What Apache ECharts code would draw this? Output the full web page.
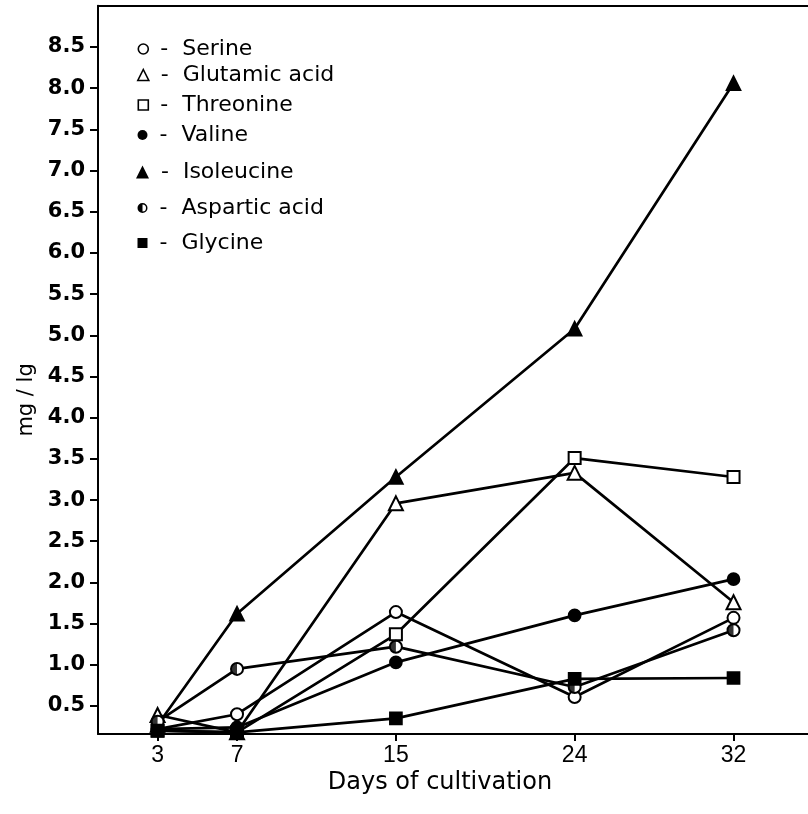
<!DOCTYPE html>
<html lang="en">
<head>
    <meta charset="UTF-8">
    <title>Amino acids - days of cultivation</title>
    <script src="https://cdn.jsdelivr.net/npm/echarts@6/dist/echarts.min.js"></script>
</head>
<body style="margin:0;background:#fff;">
<div id="main" style="width:808px;height:814px;"></div>

<script type="text/javascript">
    // values (mg / lg)
    var days = [3, 7, 15, 24, 32];
    var serine = [0.22, 0.40, 1.64, 0.61, 1.57];
    var glutamic = [0.39, 0.18, 2.96, 3.33, 1.76];
    var threonine = [0.20, 0.18, 1.37, 3.51, 3.28];
    var valine = [0.22, 0.24, 1.03, 1.60, 2.04];
    var isoleucine = [0.27, 1.62, 3.28, 5.08, 8.06];
    var aspartic = [0.31, 0.95, 1.22, 0.73, 1.42];
    var glycine = [0.20, 0.18, 0.35, 0.83, 0.84];

    var yTicks = [0.5, 1.0, 1.5, 2.0, 2.5, 3.0, 3.5, 4.0, 4.5, 5.0, 5.5, 6.0, 6.5, 7.0, 7.5, 8.0, 8.5];
    var xTicks = [3, 7, 15, 24, 32];

    // half filled circle (left half black) for aspartic acid
    var halfRing = 'path://M10 0A10 10 0 1 1 10 20A10 10 0 1 1 10 0ZM10 3L10 17A7 7 0 0 0 10 3Z';
    var halfDisk = 'path://M10 0A10 10 0 0 0 10 20Z';

    function pairs(ys) {
        var out = [];
        for (var i = 0; i < days.length; i++) {
            out.push([days[i], ys[i]]);
        }
        return out;
    }

    var font = 'DejaVu Sans';

    var items = [
        {name: 'Serine', data: serine, symbol: 'emptyCircle', size: 12, icon: 'circle', fill: '#fff', isz: 10},
        {name: 'Glutamic acid', data: glutamic, symbol: 'emptyTriangle', size: 14, icon: 'triangle', fill: '#fff', isz: 11},
        {name: 'Threonine', data: threonine, symbol: 'emptyRect', size: 12, icon: 'rect', fill: '#fff', isz: 10},
        {name: 'Valine', data: valine, symbol: 'circle', size: 12, icon: 'circle', fill: '#000', isz: 10},
        {name: 'Isoleucine', data: isoleucine, symbol: 'triangle', size: 14, icon: 'triangle', fill: '#000', isz: 13},
        {name: 'Aspartic acid', data: aspartic, symbol: 'emptyCircle', size: 12, icon: halfRing, fill: '#000', isz: 10},
        {name: 'Glycine', data: glycine, symbol: 'rect', size: 12, icon: 'rect', fill: '#000', isz: 10}
    ];
    var legendTops = [33, 59, 89, 119, 156, 192, 227];

    var series = [];
    var legends = [];
    for (var i = 0; i < items.length; i++) {
        var it = items[i];
        series.push({
            name: it.name,
            type: 'line',
            data: pairs(it.data),
            symbol: it.symbol,
            symbolSize: it.size,
            showAllSymbol: true,
            lineStyle: {color: '#000', width: 2.7},
            itemStyle: {color: '#000', borderColor: '#000', borderWidth: 1.7},
            z: 2 + i * 0.01
        });
        legends.push({
            left: 132 + (11 - it.isz) / 2,
            top: legendTops[i],
            orient: 'vertical',
            selectedMode: false,
            itemWidth: it.isz,
            itemHeight: it.isz,
            formatter: ' -  {name}',
            textStyle: {fontFamily: font, fontSize: 22, color: '#000'},
            data: [{
                name: it.name,
                icon: it.icon,
                itemStyle: {color: it.fill, borderColor: '#000', borderWidth: it.fill === '#fff' ? 1.6 : 0}
            }]
        });
    }
    // left half of the aspartic acid markers
    series.push({
        name: 'Aspartic acid (half)',
        type: 'scatter',
        data: pairs(aspartic),
        symbol: halfDisk,
        symbolSize: [6, 12],
        symbolOffset: [-3, 0],
        itemStyle: {color: '#000'},
        z: 5
    });

    var myChart = echarts.init(document.getElementById('main'));

    var option = {
        backgroundColor: '#fff',
        animation: false,
        legend: legends,
        grid: {
            left: 98,
            top: 5.8,
            right: 0,
            bottom: 80,
            show: false
        },
        xAxis: [{
            type: 'value',
            min: 0,
            max: 35.75,
            name: 'Days of cultivation',
            nameLocation: 'middle',
            nameGap: 37,
            nameMoveOverlap: false,
            nameTextStyle: {fontFamily: font, fontSize: 24, color: '#000', padding: [0, 26, 0, 0]},
            splitLine: {show: false},
            axisLine: {show: true, lineStyle: {color: '#000', width: 2}},
            axisTick: {show: true, inside: false, length: 7, customValues: xTicks, lineStyle: {color: '#000', width: 2}},
            axisLabel: {customValues: xTicks, fontFamily: 'Liberation Sans', fontSize: 23, color: '#000', margin: 10}
        }, {
            // top edge of the frame
            type: 'value',
            position: 'top',
            min: 0,
            max: 35.75,
            splitLine: {show: false},
            axisLine: {show: true, lineStyle: {color: '#000', width: 2}},
            axisTick: {show: false},
            axisLabel: {show: false}
        }],
        yAxis: {
            type: 'value',
            min: 0.16,
            max: 9.0,
            name: 'mg / lg',
            nameLocation: 'middle',
            nameGap: 60,
            nameTextStyle: {fontFamily: font, fontSize: 21, color: '#000', padding: [0, 60, 0, 0]},
            splitLine: {show: false},
            axisLine: {show: true, lineStyle: {color: '#000', width: 2}},
            axisTick: {show: true, inside: false, length: 8, customValues: yTicks, lineStyle: {color: '#000', width: 2}},
            axisLabel: {
                customValues: yTicks,
                fontFamily: font,
                fontWeight: 'bold',
                fontSize: 21,
                color: '#000',
                margin: 13,
                formatter: function (v) {
                    return v.toFixed(1);
                }
            }
        },
        series: series
    };

    myChart.setOption(option);
</script>
</body>
</html>
